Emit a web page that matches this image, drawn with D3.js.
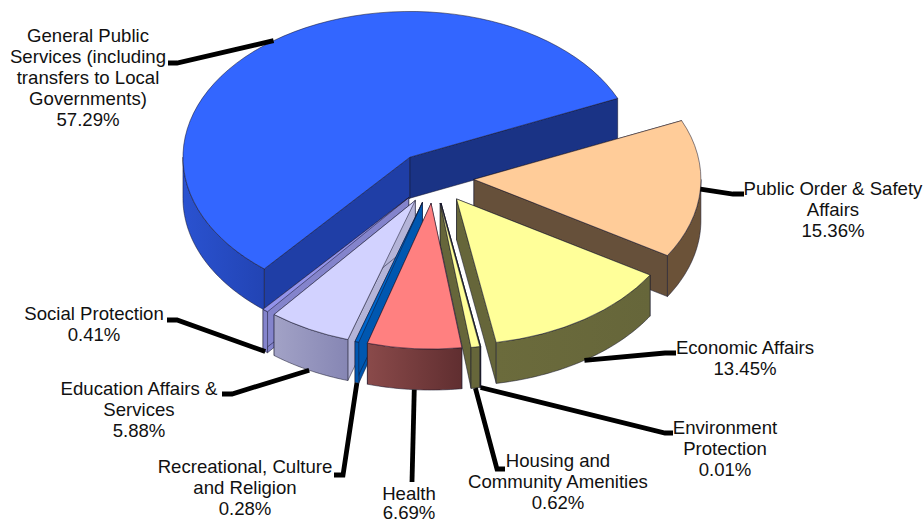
<!DOCTYPE html>
<html>
<head>
<meta charset="utf-8">
<style>
html,body{margin:0;padding:0;background:#fff;overflow:hidden}
svg{display:block}
text{font-family:"Liberation Sans",Arial,sans-serif;font-size:18.6px;fill:#111;text-anchor:middle}
</style>
<script src="https://cdn.jsdelivr.net/npm/d3@7/dist/d3.min.js"></script>
</head>
<body>
<svg id="c" width="923" height="523"></svg>
<script>
// Data, clockwise from the start angle
const categories = ["Public Order & Safety Affairs","Economic Affairs","Environment Protection","Housing and Community Amenities","Health","Recreational, Culture and Religion","Education Affairs & Services","Social Protection","General Public Services (including transfers to Local Governments)"];
const values = [15.36,13.45,0.01,0.62,6.69,0.28,5.88,0.41,57.29];
const labelLines = [
 ["Public Order & Safety","Affairs","15.36%"],
 ["Economic Affairs","13.45%"],
 ["Environment","Protection","0.01%"],
 ["Housing and","Community Amenities","0.62%"],
 ["Health","6.69%"],
 ["Recreational, Culture","and Religion","0.28%"],
 ["Education Affairs &","Services","5.88%"],
 ["Social Protection","0.41%"],
 ["General Public","Services (including","transfers to Local","Governments)","57.29%"]
];
// Styles
const topColors  = ["#FFCC99","#FFFF99","#33CC66","#FFFF99","#FF8080","#0066CC","#D2D2FF","#9393EA","#3366FF"];
const endWall    = ["#66503A","#66663A","#66663A","#66663A","#6E3636","#0057B0","#B4B4D8","#8484CC","#1A3385"];
const startWall  = ["#66503A","#66663A","#66663A","#66663A","#6E3636","#0057B0","#B4B4D8","#8484CC","#1F3EA6"];
const rimFrom    = ["#6B5238","#6B6B3C","#66663A","#66663A","#8A4A4A","#0057B0","#A2A2C6","#8484CC","#2A52D0"];
const rimTo      = ["#6B5238","#66663A","#66663A","#66663A","#602E30","#0057B0","#8686B4","#8484CC","#2244B4"];
// Layout
const cx = 434, cy = 177.7, R = 227, tilt = 0.642, depth = 41, explode = 40, startDeg = 66.2;
const elbows = [
 [[733,194],[744,194]],
 [[665,353],[676,353]],
 [[665,433],[673,433]],
 [[497,469],[505,469]],
 [[412,482]],
 [[343,475],[334,475]],
 [[232,394],[222,394]],
 [[177,320],[167,320]],
 [[177,63],[168,63]]
];
const labelX = [833,745,725,558,409,245,139,94,88];
const labelY = [195,354,434,467,500,473,395,320,42];
const lineSteps = [21,21,21,21,19,21,21,21,21];

const rad = Math.PI/180;
const svg = d3.select("#c");
const defs = svg.append("defs");
const pie = d3.pie().sort(null).startAngle(startDeg*rad).endAngle((startDeg+360)*rad);
const arcs = pie(values).map((d,i)=>{
  const mid=(d.startAngle+d.endAngle)/2;
  return {...d,i,mid,ax:cx+explode*Math.sin(mid),ay:cy-explode*Math.cos(mid)*tilt};
});
const arcGen = d3.arc().innerRadius(0).outerRadius(R);
const pt = (s,a,r=R,dz=0)=>[s.ax+r*Math.sin(a), s.ay-r*Math.cos(a)*tilt+dz];
const line = d3.line();
const outline = {stroke:"#14142a",opacity:0.65,width:0.8};

function styled(sel){return sel.attr("stroke",outline.stroke).attr("stroke-opacity",outline.opacity).attr("stroke-width",outline.width).attr("stroke-linejoin","round");}

const order = arcs.slice().sort((a,b)=>d3.ascending(-Math.cos(a.mid),-Math.cos(b.mid)));
const gPie = svg.append("g");
order.forEach(s=>{
  const g = gPie.append("g");
  // radial walls
  [[s.startAngle,startWall[s.i]],[s.endAngle,endWall[s.i]]].forEach(([a,col])=>{
    const o=pt(s,a), c=[s.ax,s.ay];
    styled(g.append("path")
      .attr("d",line([c,o,[o[0],o[1]+depth],[c[0],c[1]+depth]])+"Z")
      .attr("fill",col));
  });
  // outer rim: only the part facing the viewer
  const a0=Math.max(s.startAngle,90*rad), a1=Math.min(s.endAngle,270*rad);
  if(a1>a0){
    const n=Math.max(2,Math.ceil((a1-a0)/rad));
    const angs=d3.range(n+1).map(k=>a0+(a1-a0)*k/n);
    const upper=angs.map(a=>pt(s,a));
    const lower=angs.map(a=>pt(s,a,R,depth)).reverse();
    const id="rim"+s.i;
    const gr=defs.append("linearGradient").attr("id",id).attr("gradientUnits","userSpaceOnUse")
      .attr("x1",d3.min(upper,p=>p[0])).attr("x2",d3.max(upper,p=>p[0])).attr("y1",0).attr("y2",0);
    gr.append("stop").attr("offset",0).attr("stop-color",rimFrom[s.i]);
    gr.append("stop").attr("offset",1).attr("stop-color",rimTo[s.i]);
    styled(g.append("path").attr("d",line(upper.concat(lower))+"Z").attr("fill",`url(#${id})`));
  }
  // top face
  g.append("path")
    .attr("d",arcGen(s))
    .attr("transform",`translate(${s.ax},${s.ay}) scale(1,${tilt})`)
    .attr("fill",topColors[s.i])
    .attr("stroke",outline.stroke).attr("stroke-opacity",outline.opacity)
    .attr("stroke-width",outline.width).attr("vector-effect","non-scaling-stroke")
    .attr("stroke-linejoin","round");
});

// leaders: start on the slice's rim at its mid angle
const gLead = svg.append("g");
arcs.forEach(s=>{
  const front = Math.cos(s.mid) < -0.2;
  const start = pt(s,s.mid,R,front?depth:0);
  gLead.append("path").attr("d",line([start,...elbows[s.i]]))
    .attr("fill","none").attr("stroke","#000").attr("stroke-width",4.8).attr("stroke-linejoin","miter");
});

// labels
const gText = svg.append("g");
arcs.forEach(s=>{
  const t = gText.append("text").attr("aria-label",categories[s.i]);
  labelLines[s.i].forEach((l,k)=>{
    t.append("tspan").attr("x",labelX[s.i]).attr("y",labelY[s.i]+k*lineSteps[s.i]).text(l);
  });
});
</script>
</body>
</html>
